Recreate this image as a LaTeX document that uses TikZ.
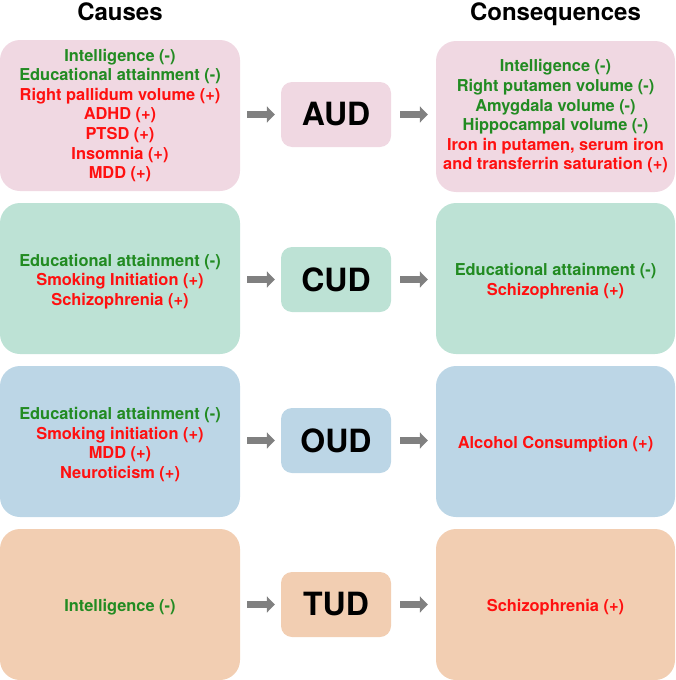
\documentclass[tikz,border=0pt]{standalone}
\usepackage{fontspec}
\setmainfont{TeX Gyre Heros}
\usetikzlibrary{arrows.meta}
\definecolor{pinkbg}{HTML}{F0D8E2}
\definecolor{greenbg}{HTML}{BDE2D5}
\definecolor{bluebg}{HTML}{BCD6E6}
\definecolor{orangebg}{HTML}{F2CEB2}
\definecolor{txtgreen}{HTML}{228B22}
\definecolor{txtred}{HTML}{FF1010}
\definecolor{arrgray}{HTML}{808080}
\newcommand{\gn}[1]{\textcolor{txtgreen}{#1}}
\newcommand{\rd}[1]{\textcolor{txtred}{#1}}
\newcommand{\dropstrut}{\rule{0pt}{18pt}}
\begin{document}
\begin{tikzpicture}[x=1pt,y=-1pt]
\tikzset{
  bigbox/.style={rounded corners=20pt, minimum width=240pt, minimum height=151pt, inner sep=0pt, align=center, font=\fontsize{16.4}{19.6}\selectfont\bfseries},
  rightbox/.style={bigbox, minimum width=239pt},
  midbox/.style={rounded corners=11pt, minimum width=110pt, minimum height=65pt, inner sep=0pt, font=\fontsize{32}{36}\selectfont\bfseries},
  title/.style={anchor=base, font=\fontsize{24}{28}\selectfont\bfseries},
  conn/.style={draw=arrgray, line width=7pt, -{Triangle[length=8pt,width=16pt]}},
  lconn/.style={conn, shorten <=7pt, shorten >=6pt},
  rconn/.style={conn, shorten <=9pt, shorten >=8pt}
}
\useasboundingbox (0,0) rectangle (675,680);
\node[title] (tc) at (120,20.5) {Causes};
\node[title] (tq) at (555.5,20.5) {Consequences};

% Row 1
\node[bigbox, fill=pinkbg] (c1) at (120,115.5) {\gn{Intelligence (-)}\\ \gn{Educational attainment (-)}\\ \rd{Right pallidum volume (+)}\\ \rd{ADHD (+)}\\ \rd{PTSD (+)}\\ \rd{Insomnia (+)}\\ \rd{MDD (+)}};
\node[midbox, fill=pinkbg] (m1) at (336,114.5) {AUD};
\node[rightbox, fill=pinkbg] (q1) at (555.5,116.5) {\gn{Intelligence (-)}\\ \gn{Right putamen volume (-)}\\ \gn{Amygdala volume (-)}\\ \gn{Hippocampal volume (-)}\\ \rd{Iron in putamen, serum iron}\\ \rd{and transferrin saturation (+)}};

% Row 2
\node[bigbox, fill=greenbg] (c2) at (120,278.5) {\dropstrut\gn{Educational attainment (-)}\\ \rd{Smoking Initiation (+)}\\ \rd{Schizophrenia (+)}};
\node[midbox, fill=greenbg] (m2) at (336,279.5) {CUD};
\node[rightbox, fill=greenbg] (q2) at (555.5,278.5) {\dropstrut\gn{Educational attainment (-)}\\ \rd{Schizophrenia (+)}};

% Row 3
\node[bigbox, fill=bluebg] (c3) at (120,441.5) {\dropstrut\gn{Educational attainment (-)}\\ \rd{Smoking initiation (+)}\\ \rd{MDD (+)}\\ \rd{Neuroticism (+)}};
\node[midbox, fill=bluebg] (m3) at (336,440.5) {OUD};
\node[rightbox, fill=bluebg] (q3) at (555.5,441.5) {\dropstrut\rd{Alcohol Consumption (+)}};

% Row 4
\node[bigbox, fill=orangebg] (c4) at (120,604.5) {\dropstrut\gn{Intelligence (-)}};
\node[midbox, fill=orangebg] (m4) at (336,604.5) {TUD};
\node[rightbox, fill=orangebg] (q4) at (555.5,604.5) {\dropstrut\rd{Schizophrenia (+)}};

% Connectors
\foreach \i in {1,2,3,4}{
  \draw[lconn] (c\i.east |- m\i.center) -- (m\i.west);
  \draw[rconn] (m\i.east) -- (q\i.west |- m\i.center);
}
\end{tikzpicture}
\end{document}
